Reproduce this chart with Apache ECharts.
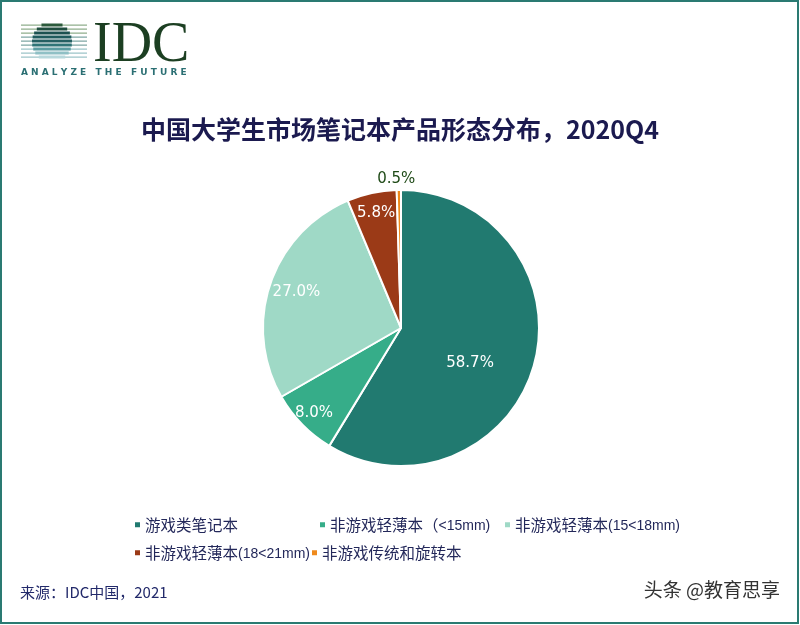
<!DOCTYPE html>
<html>
<head>
<meta charset="utf-8">
<script src="https://cdn.jsdelivr.net/npm/echarts@6/dist/echarts.min.js"></script>
<style>
html,body{margin:0;padding:0;background:#fff;}
#c{width:800px;height:625px;}
</style>
</head>
<body>
<div id="c"></div>
<script>
const categories = ['游戏类笔记本', '非游戏轻薄本（<15mm)', '非游戏轻薄本(15<18mm)', '非游戏轻薄本(18<21mm)', '非游戏传统和旋转本'];
const values = [58.7, 8.0, 27.0, 5.8, 0.5];
const colors = ['#217a70', '#36ad89', '#9fd9c6', '#9b3a17', '#ef8a1c'];
const titleText = '中国大学生市场笔记本产品形态分布，2020Q4';
const sourceText = '来源：IDC中国，2021';
const watermarkText = '头条 @教育思享';

// label placement (fraction of radius, angle nudge in degrees), styling only
const labelRadiusFactor = [0.56, 0.88, 0.8, 0.85, 1.08];
const labelAngleShift = [11, 0, 0, 0, 0];

const chart = echarts.init(document.getElementById('c'), null, {renderer: 'canvas'});

const pieCenter = [401, 328];
const pieRadius = 138;

const legendPos = [
  {left: 128, top: 512},
  {left: 313, top: 512},
  {left: 498, top: 512},
  {left: 128, top: 540},
  {left: 305, top: 540}
];
const legendTextColor = '#23285a';
const legends = categories.map((name, i) => ({
  data: [name],
  left: legendPos[i].left,
  top: legendPos[i].top,
  icon: 'rect',
  itemWidth: 7,
  itemHeight: 7,
  itemGap: 0,
  selectedMode: false,
  formatter: n => n.replace(/([\x00-\x7F]+)/g, '{l|$1}'),
  textStyle: {
    fontSize: 15.5, color: legendTextColor, fontFamily: 'Noto Sans CJK SC', padding: [0, 0, 0, -1],
    rich: {l: {fontSize: 14, color: legendTextColor, fontFamily: 'Liberation Sans', padding: [2, 0, 0, 0]}}
  }
}));

// logo stripes (decoration)
const logoGraphics = [];
const cx = 52, cy = 42, r = 20;
const stripeYs = [25, 29, 33, 37, 41, 45, 49, 53, 57];
stripeYs.forEach((y, i) => {
  logoGraphics.push({type: 'rect', shape: {x: 21, y: y - 0.6, width: 66, height: 1.3}, style: {fill: i < 3 ? '#8fae8c' : (i < 6 ? '#7ea6a3' : '#9cc4c8')}});
});
const circleColors = ['#2c5a3c', '#1f4d3f', '#1c5150', '#1f5b5d', '#245f62', '#2f7477', '#5a9ca1', '#8fc0c5', '#b7d8dc'];
stripeYs.forEach((y, i) => {
  const dy = y - cy;
  if (Math.abs(dy) < r) {
    const half = Math.sqrt(r * r - dy * dy);
    logoGraphics.push({type: 'rect', shape: {x: cx - half, y: y - 1.5, width: half * 2, height: 3}, style: {fill: circleColors[i]}});
  }
});
logoGraphics.push({type: 'text', left: 93, top: 18, style: {text: 'IDC', font: '56px "Liberation Serif"', fill: '#1c3f22'}});
logoGraphics.push({type: 'text', left: 21, top: 68, style: {text: 'A N A L Y Z E   T H E   F U T U R E', font: 'bold 9px "DejaVu Sans"', fill: '#2b6f73'}});

chart.setOption({
  backgroundColor: '#ffffff',
  animation: false,
  title: {
    text: titleText,
    left: 'center',
    top: 112,
    textStyle: {fontSize: 25, fontWeight: 'bold', color: '#1b1a4f', fontFamily: 'Noto Sans CJK SC'}
  },
  legend: legends,
  graphic: [
    {type: 'rect', shape: {x: 1, y: 1, width: 797, height: 622}, style: {fill: 'none', stroke: '#2a7a72', lineWidth: 2}},
    ...logoGraphics,
    {type: 'text', left: 20, top: 585, style: {text: sourceText, font: '15px "Noto Sans CJK SC"', fill: '#22296a'}},
    {type: 'text', right: 20, top: 580, style: {text: watermarkText, font: '19px "Noto Sans CJK SC"', fill: '#333333'}}
  ],
  series: [{
    type: 'pie',
    center: pieCenter,
    radius: [0, pieRadius],
    startAngle: 90,
    clockwise: true,
    avoidLabelOverlap: false,
    itemStyle: {borderColor: '#ffffff', borderWidth: 2},
    label: {
      show: true,
      position: 'inside',
      formatter: p => p.value.toFixed(1) + '%',
      color: '#ffffff',
      fontSize: 15,
      fontFamily: 'DejaVu Sans'
    },
    labelLine: {show: false},
    labelLayout: function (params) {
      const i = params.dataIndex;
      const src = i === 4 ? params.rect : params.labelRect;
      const lx = src.x + src.width / 2, ly = src.y + src.height / 2;
      let ang = Math.atan2(ly - pieCenter[1], lx - pieCenter[0]);
      ang += labelAngleShift[i] * Math.PI / 180;
      const f = labelRadiusFactor[i];
      return {
        x: pieCenter[0] + Math.cos(ang) * pieRadius * f,
        y: pieCenter[1] + Math.sin(ang) * pieRadius * f,
        align: 'center',
        verticalAlign: 'middle'
      };
    },
    emphasis: {disabled: true},
    data: categories.map((name, i) => {
      const d = {name: name, value: values[i], itemStyle: {color: colors[i]}};
      if (i === 4) {
        d.label = {position: 'outside', color: '#1f4a17'};
        d.labelLine = {show: false, length: 4, length2: 0};
      }
      return d;
    })
  }]
});
</script>
</body>
</html>
